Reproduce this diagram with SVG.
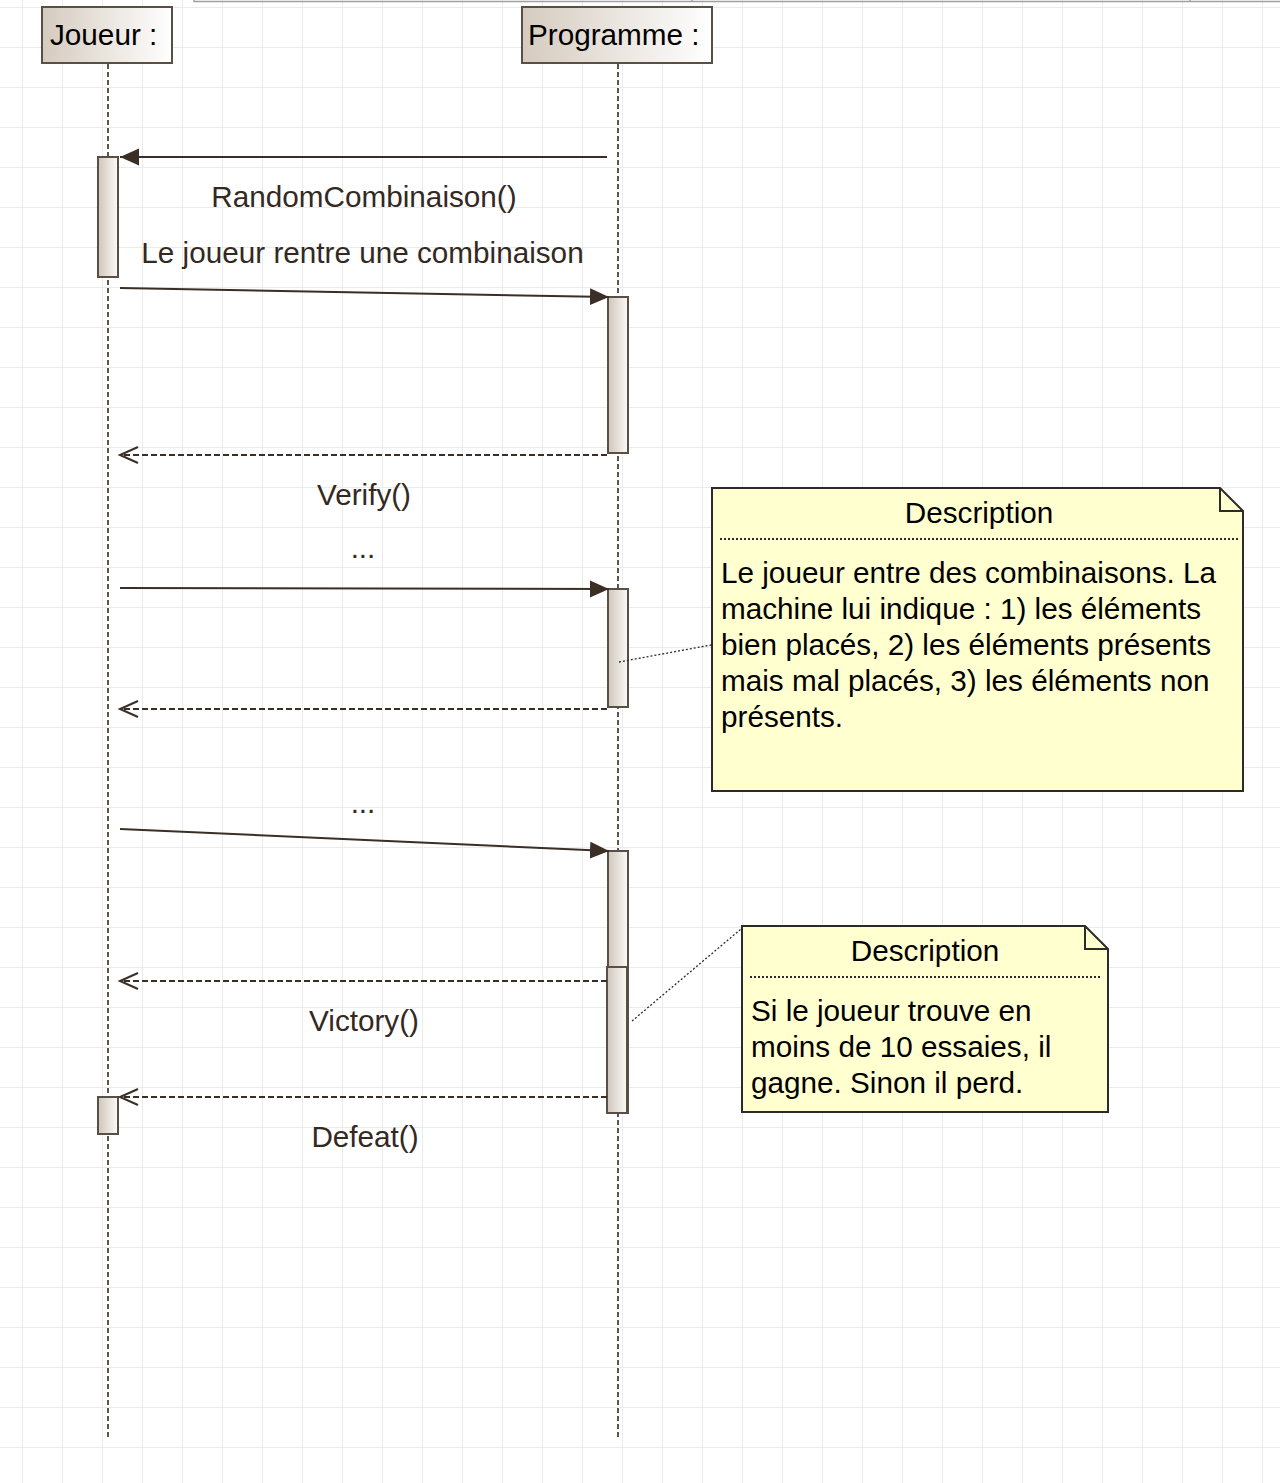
<svg xmlns="http://www.w3.org/2000/svg" width="1280" height="1483" viewBox="0 0 1280 1483">
<style>
text{font-family:"Liberation Sans",Arial,sans-serif;font-size:29.7px}
.lbl{fill:#33291f;text-anchor:middle}
.hdr{fill:#000}
.nt{fill:#000}
.ll{stroke:#5f554d;stroke-width:2;stroke-dasharray:5 3;fill:none}
.msg{stroke:#3a2e25;stroke-width:2;fill:none}
.ret{stroke:#3a2e25;stroke-width:2;stroke-dasharray:6 3;fill:none}
.act{fill:url(#ag);stroke:#5a4f45;stroke-width:2}
.head{fill:url(#hg);stroke:#5a4f45;stroke-width:2}
.note{fill:#ffffd0;stroke:#2b2b2b;stroke-width:2}
.dot{stroke:#2b2b2b;stroke-width:2;stroke-dasharray:2 2;fill:none}
.anc{stroke:#2b2b2b;stroke-width:1.3;stroke-dasharray:2 2;fill:none}
</style>
<defs>
<pattern id="grid" x="22" y="7" width="40" height="40" patternUnits="userSpaceOnUse">
<path d="M0.5,0 V40 M0,0.5 H40" stroke="#ebebeb" stroke-width="1" fill="none"/>
</pattern>
<linearGradient id="hg" x1="0" y1="0" x2="1" y2="0">
<stop offset="0" stop-color="#d5cbbf"/><stop offset="1" stop-color="#ffffff"/>
</linearGradient>
<linearGradient id="ag" x1="0" y1="0" x2="1" y2="0">
<stop offset="0" stop-color="#cfc6bb"/><stop offset="1" stop-color="#fbfaf8"/>
</linearGradient>
<marker id="fa" markerWidth="20" markerHeight="18" refX="19" refY="8.5" orient="auto" markerUnits="userSpaceOnUse">
<path d="M0,0 L19,8.5 L0,17 z" fill="#3a2e25"/>
</marker>
<marker id="oa" markerWidth="22" markerHeight="20" refX="19" refY="9" orient="auto" markerUnits="userSpaceOnUse">
<path d="M1,1 L19,9 L1,17" fill="none" stroke="#3a2e25" stroke-width="2"/>
</marker>
</defs>
<rect width="1280" height="1483" fill="#ffffff"/>
<rect width="1280" height="1483" fill="url(#grid)"/>
<path d="M194,0 V1.5 H1280 M692,0 V1.5 M1190,0 V1.5" stroke="#a0a0a0" stroke-width="1.5" fill="none"/>

<g id="joueur">
<line class="ll" x1="108" y1="64" x2="108" y2="1437"/>
<rect class="head" x="42" y="7" width="130" height="56"/>
<text class="hdr" x="50" y="45">Joueur :</text>
<rect class="act" x="98" y="157" width="20" height="120"/>
<rect class="act" x="98" y="1097" width="20" height="37"/>
</g>

<g id="programme">
<line class="ll" x1="618" y1="64" x2="618" y2="1437"/>
<rect class="head" x="522" y="7" width="190" height="56"/>
<text class="hdr" x="528" y="45">Programme :</text>
<rect class="act" x="608" y="297" width="20" height="156"/>
<rect class="act" x="608" y="589" width="20" height="118"/>
<rect class="act" x="608" y="851" width="20" height="262"/>
<rect class="act" x="607" y="967" width="20" height="146"/>
</g>

<g id="connectors">
<line class="msg" x1="607" y1="157" x2="120" y2="157" marker-end="url(#fa)"/>
<line class="msg" x1="120" y1="288" x2="609" y2="297" marker-end="url(#fa)"/>
<line class="ret" x1="607" y1="455" x2="120" y2="455" marker-end="url(#oa)"/>
<line class="msg" x1="120" y1="588" x2="609" y2="589" marker-end="url(#fa)"/>
<line class="ret" x1="607" y1="709" x2="120" y2="709" marker-end="url(#oa)"/>
<line class="msg" x1="120" y1="829" x2="609" y2="851" marker-end="url(#fa)"/>
<line class="ret" x1="607" y1="981" x2="120" y2="981" marker-end="url(#oa)"/>
<line class="ret" x1="607" y1="1097" x2="120" y2="1097" marker-end="url(#oa)"/>
<line class="anc" x1="619" y1="662" x2="711" y2="645"/>
<line class="anc" x1="632" y1="1021" x2="741" y2="929"/>
</g>

<g id="labels">
<text class="lbl" x="364" y="207">RandomCombinaison()</text>
<text class="lbl" x="362.5" y="263">Le joueur rentre une combinaison</text>
<text class="lbl" x="364" y="505">Verify()</text>
<text class="lbl" x="363" y="558">...</text>
<text class="lbl" x="363" y="813">...</text>
<text class="lbl" x="364" y="1031">Victory()</text>
<text class="lbl" x="365" y="1147">Defeat()</text>
</g>

<g id="note1">
<path class="note" d="M712,488 H1220 L1243,511 V791 H712 Z"/>
<path d="M1220,488 V511 H1243" fill="none" stroke="#2b2b2b" stroke-width="2"/>
<text class="nt" x="979" y="523" text-anchor="middle">Description</text>
<line class="dot" x1="720" y1="539" x2="1238" y2="539"/>
<text class="nt" x="721" y="583">Le joueur entre des combinaisons. La</text>
<text class="nt" x="721" y="619">machine lui indique : 1) les éléments</text>
<text class="nt" x="721" y="655">bien placés, 2) les éléments présents</text>
<text class="nt" x="721" y="691">mais mal placés, 3) les éléments non</text>
<text class="nt" x="721" y="727">présents.</text>
</g>

<g id="note2">
<path class="note" d="M742,926 H1085 L1108,949 V1112 H742 Z"/>
<path d="M1085,926 V949 H1108" fill="none" stroke="#2b2b2b" stroke-width="2"/>
<text class="nt" x="925" y="961" text-anchor="middle">Description</text>
<line class="dot" x1="750" y1="977" x2="1100" y2="977"/>
<text class="nt" x="751" y="1021">Si le joueur trouve en</text>
<text class="nt" x="751" y="1057">moins de 10 essaies, il</text>
<text class="nt" x="751" y="1093">gagne. Sinon il perd.</text>
</g>
</svg>
